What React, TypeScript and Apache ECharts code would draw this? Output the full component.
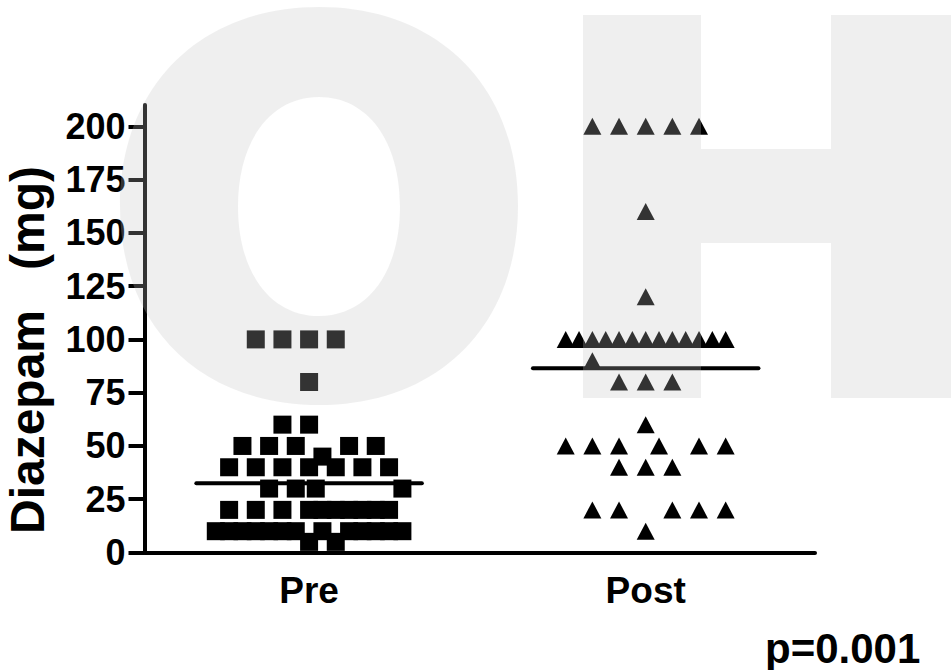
import React, { useEffect, useRef } from "react";
import * as echarts from "echarts";

// Groups on the horizontal axis
const categories = ["Pre", "Post"];
// Tick values on the dose axis
const doseTicks = [0, 25, 50, 75, 100, 125, 150, 175, 200];

// Individual doses as [column slot, mg]; slots spread tied values sideways
const preDoses: [number, number][] = [
  [-2, 100], [-1, 100], [0, 100], [1, 100],
  [0, 80],
  [-1, 60], [0, 60],
  [-2.5, 50], [-1.5, 50], [-0.5, 50], [1.5, 50], [2.5, 50],
  [0.5, 45],
  [-3, 40], [-2, 40], [-1, 40], [0, 40], [1, 40], [2, 40], [3, 40],
  [-1.5, 30], [-0.5, 30], [0.25, 30], [3.5, 30],
  [-3, 20], [-2, 20], [-1, 20], [0, 20], [0.5, 20], [1, 20], [1.5, 20], [2, 20], [2.5, 20], [3, 20],
  [-3.5, 10], [-3, 10], [-2.5, 10], [-2, 10], [-1.5, 10], [-1, 10], [-0.5, 10],
  [0.5, 10], [1.5, 10], [2, 10], [2.5, 10], [3, 10], [3.5, 10],
  [0, 5], [1, 5],
];

const postDoses: [number, number][] = [
  [-2, 200], [-1, 200], [0, 200], [1, 200], [2, 200],
  [0, 160],
  [0, 120],
  [-3, 100], [-2.5, 100], [-2, 100], [-1.5, 100], [-1, 100], [-0.5, 100], [0, 100],
  [0.5, 100], [1, 100], [1.5, 100], [2, 100], [2.5, 100], [3, 100],
  [-2, 90],
  [-1, 80], [0, 80], [1, 80],
  [0, 60],
  [-3, 50], [-2, 50], [-1, 50], [0.5, 50], [2, 50], [3, 50],
  [-1, 40], [0, 40], [1, 40],
  [-2, 20], [-1, 20], [1, 20], [2, 20], [3, 20],
  [0, 10],
];

// Group means (horizontal bars)
const groupMeans = [32.5, 86.5];

const pValueText = "p=0.001";
const yAxisTitle = "Diazepam   (mg)";

const FONT = '"Liberation Sans", Arial, Helvetica, sans-serif';
const SLOT = 0.0792; // horizontal distance between adjacent columns, in group units
const MEAN_HALF = 0.335; // half length of a mean bar, in group units

// Outline of an oval built from four cubic curves; reverse = opposite winding
function ovalPath(cx: number, cy: number, rx: number, ry: number, k: number, reverse: boolean) {
  const f = (n: number) => n.toFixed(2);
  if (!reverse) {
    return (
      `M${f(cx)} ${f(cy - ry)}` +
      `C${f(cx + k * rx)} ${f(cy - ry)} ${f(cx + rx)} ${f(cy - k * ry)} ${f(cx + rx)} ${f(cy)}` +
      `C${f(cx + rx)} ${f(cy + k * ry)} ${f(cx + k * rx)} ${f(cy + ry)} ${f(cx)} ${f(cy + ry)}` +
      `C${f(cx - k * rx)} ${f(cy + ry)} ${f(cx - rx)} ${f(cy + k * ry)} ${f(cx - rx)} ${f(cy)}` +
      `C${f(cx - rx)} ${f(cy - k * ry)} ${f(cx - k * rx)} ${f(cy - ry)} ${f(cx)} ${f(cy - ry)}Z`
    );
  }
  return (
    `M${f(cx)} ${f(cy - ry)}` +
    `C${f(cx - k * rx)} ${f(cy - ry)} ${f(cx - rx)} ${f(cy - k * ry)} ${f(cx - rx)} ${f(cy)}` +
    `C${f(cx - rx)} ${f(cy + k * ry)} ${f(cx - k * rx)} ${f(cy + ry)} ${f(cx)} ${f(cy + ry)}` +
    `C${f(cx + k * rx)} ${f(cy + ry)} ${f(cx + rx)} ${f(cy + k * ry)} ${f(cx + rx)} ${f(cy)}` +
    `C${f(cx + rx)} ${f(cy - k * ry)} ${f(cx + k * rx)} ${f(cy - ry)} ${f(cx)} ${f(cy - ry)}Z`
  );
}

let shapesRegistered = false;
function registerShapes() {
  if (shapesRegistered) return;
  // Watermark letter "O": outer oval with a counter-wound inner hole
  const d = ovalPath(319, 206, 199, 199, 0.6, false) + ovalPath(319, 206.5, 81, 109.5, 0.6, true);
  echarts.graphic.registerShape("markO", echarts.graphic.extendPath(d, {}));
  shapesRegistered = true;
}

export default function App() {
  const ref = useRef<HTMLDivElement>(null);

  useEffect(() => {
    if (!ref.current) return;
    registerShapes();
    const chart = echarts.init(ref.current, undefined, { renderer: "svg" });

    const overlay = "rgba(194,194,194,0.263)";

    const option: any = {
      animation: false,
      backgroundColor: "#ffffff",
      grid: { left: 144.5, right: 136, top: 105, bottom: 117.5, containLabel: false },
      xAxis: {
        type: "value",
        min: 0.511,
        max: 2.503,
        axisLine: { show: true, lineStyle: { color: "#000", width: 4 } },
        axisTick: { show: false },
        splitLine: { show: false },
        axisLabel: {
          customValues: [1, 2],
          formatter: (v: number) => categories[Math.round(v) - 1] ?? "",
          color: "#000",
          fontFamily: FONT,
          fontWeight: "bold",
          fontSize: 37,
          margin: 19,
        },
      },
      yAxis: {
        type: "value",
        min: 0,
        max: 210,
        axisLine: { show: true, lineStyle: { color: "#000", width: 4 } },
        axisTick: {
          show: true,
          customValues: doseTicks,
          length: 16,
          lineStyle: { color: "#000", width: 4 },
        },
        splitLine: { show: false },
        axisLabel: {
          customValues: doseTicks,
          color: "#000",
          fontFamily: FONT,
          fontWeight: "bold",
          fontSize: 36,
          margin: 19,
        },
      },
      series: [
        {
          name: categories[0],
          type: "scatter",
          symbol: "rect",
          symbolSize: 18,
          itemStyle: { color: "#000", opacity: 1 },
          data: preDoses.map(([s, v]) => [1 + s * SLOT, v]),
          z: 3,
        },
        {
          name: categories[1],
          type: "scatter",
          symbol: "triangle",
          symbolSize: [18, 17],
          itemStyle: { color: "#000", opacity: 1 },
          data: postDoses.map(([s, v]) => [2 + s * SLOT, v]),
          z: 3,
        },
        ...groupMeans.map((m, i) => ({
          name: categories[i] + " mean",
          type: "line",
          showSymbol: false,
          symbol: "none",
          lineStyle: { color: "#000", width: 4, cap: "round" },
          data: [
            [i + 1 - MEAN_HALF, m],
            [i + 1 + MEAN_HALF, m],
          ],
          z: 4,
        })),
      ],
      graphic: [
        {
          type: "text",
          x: 27,
          y: 350,
          rotation: Math.PI / 2,
          style: {
            text: yAxisTitle,
            font: `bold 48px ${FONT}`,
            fill: "#000",
            align: "center",
            verticalAlign: "middle",
          },
        },
        {
          type: "text",
          x: 765,
          y: 648,
          style: {
            text: pValueText,
            font: `bold 42px ${FONT}`,
            fill: "#000",
            align: "left",
            verticalAlign: "middle",
          },
        },
        {
          type: "markO",
          x: 0,
          y: 0,
          z: 100,
          silent: true,
          style: { fill: overlay },
        },
        {
          type: "polygon",
          z: 100,
          silent: true,
          shape: {
            points: [
              [583, 15], [701, 15], [701, 149], [831, 149], [831, 15], [960, 15],
              [960, 398], [831, 398], [831, 243], [701, 243], [701, 398], [583, 398],
            ],
          },
          style: { fill: overlay },
        },
      ],
    };

    chart.setOption(option);
    return () => chart.dispose();
  }, []);

  return (
    <div
      ref={ref}
      style={{ position: "fixed", left: 0, top: 0, width: 951, height: 670 }}
    />
  );
}
